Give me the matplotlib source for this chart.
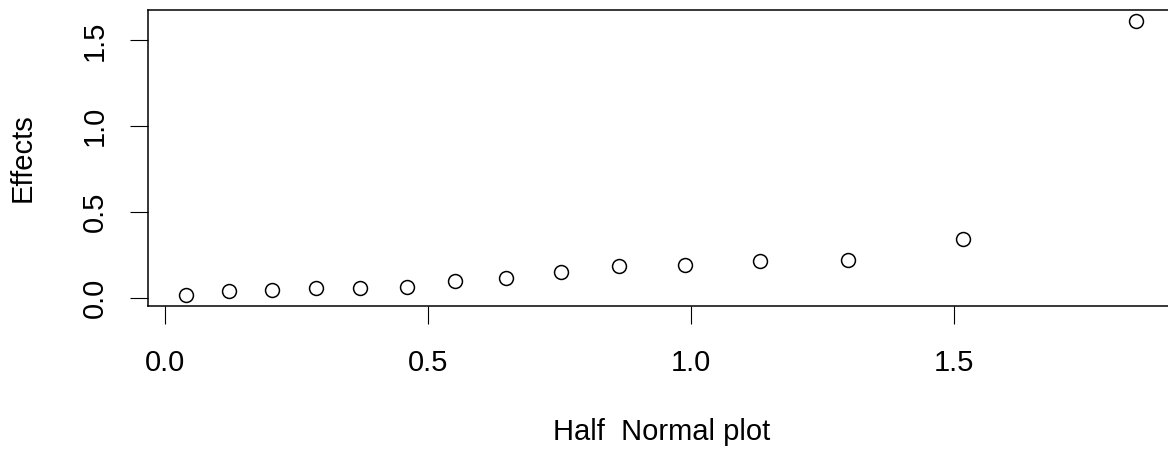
import numpy as np
from matplotlib import pyplot as plt

plt.rcParams['font.family'] = ['Liberation Sans', 'DejaVu Sans']

# half normal quantiles (x) and absolute effects (y)
quantiles = [0.040, 0.121, 0.204, 0.287, 0.371, 0.460, 0.552, 0.649, 0.753,
             0.864, 0.989, 1.131, 1.300, 1.518, 1.848]
effects = [0.018, 0.041, 0.045, 0.057, 0.057, 0.061, 0.097, 0.113, 0.150,
           0.187, 0.189, 0.216, 0.222, 0.342, 1.614]
xticks = [0.0, 0.5, 1.0, 1.5]
yticks = [0.0, 0.5, 1.0, 1.5]

W, H = 1168, 449
fig = plt.figure(figsize=(W / 100, H / 100), dpi=100)
ax = fig.add_axes([148 / W, (H - 305.6) / H, (1174.5 - 148) / W, (305.6 - 10) / H])

ax.plot(quantiles, effects, 'o', mfc='none', mec='black', ms=10, mew=1.1)

# R style: 4% padding around the data
xr = max(quantiles) - min(quantiles)
yr = max(effects) - min(effects)
ax.set_xlim(min(quantiles) - 0.04 * xr, max(quantiles) + 0.04 * xr)
ax.set_ylim(min(effects) - 0.04 * yr, max(effects) + 0.04 * yr)

ax.set_xticks(xticks)
ax.set_xticklabels(['%.1f' % v for v in xticks])
ax.set_yticks(yticks)
ax.set_yticklabels(['%.1f' % v for v in yticks], rotation=90, va='center')
ax.tick_params(axis='both', length=13, width=0.8, labelsize=21)
ax.tick_params(axis='x', pad=18)
ax.tick_params(axis='y', pad=15)

for s in ax.spines.values():
    s.set_linewidth(1.1)

ax.set_xlabel('Half  Normal plot', fontsize=21, labelpad=30)
ax.set_ylabel('Effects', fontsize=21, labelpad=32)

fig.savefig('out.png', dpi=100)
